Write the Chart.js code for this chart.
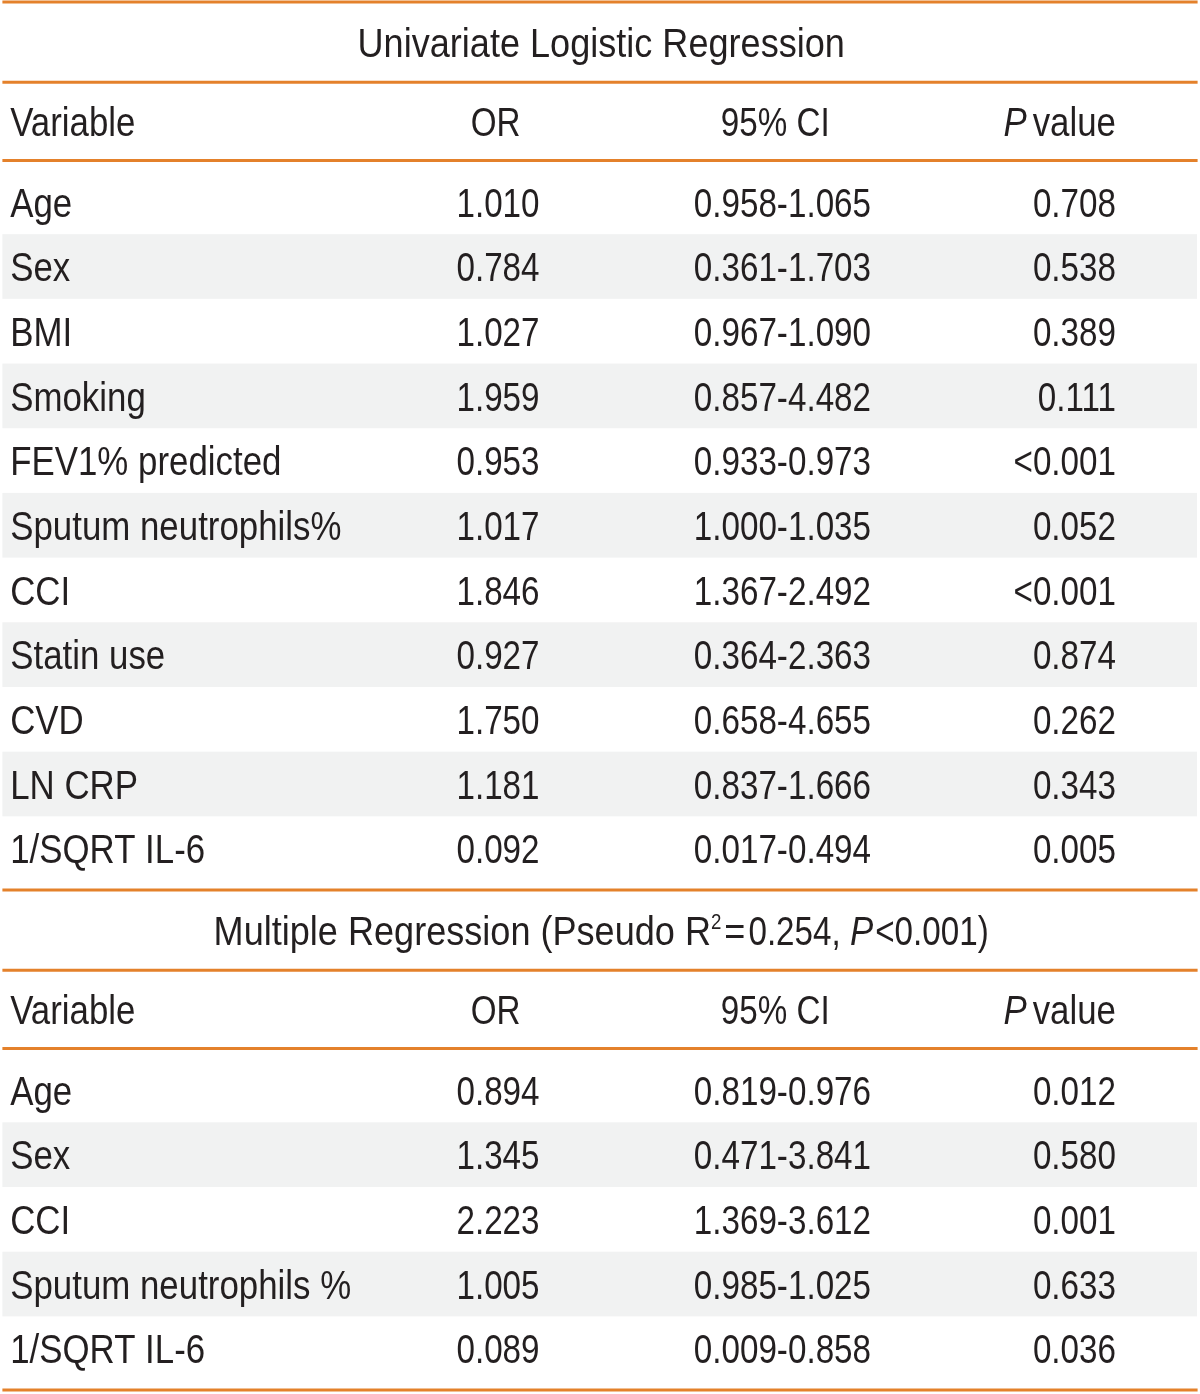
<!DOCTYPE html>
<html>
<head>
<meta charset="utf-8">
<title>Logistic regression table</title>
<script src="https://cdn.jsdelivr.net/npm/chart.js@4.4.0/dist/chart.umd.min.js"></script>
<style>
    body { margin: 0; background: #fff; }
    canvas { display: block; }
</style>
</head>
<body>
<canvas id="regressionTable" width="1200" height="1394"></canvas>
<script>
// Column headings and titles
const columnHeaders = ['Variable', 'OR', '95% CI', 'value'];
const uniTitle = 'Univariate Logistic Regression';
const multiTitle = 'Multiple Regression';
const multiPseudoR2 = 0.254;
const multiModelP = '<0.001';

// Univariate logistic regression
const uniVariables = ['Age', 'Sex', 'BMI', 'Smoking', 'FEV1% predicted', 'Sputum neutrophils%', 'CCI', 'Statin use', 'CVD', 'LN CRP', '1/SQRT IL-6'];
const uniOR = [1.010, 0.784, 1.027, 1.959, 0.953, 1.017, 1.846, 0.927, 1.750, 1.181, 0.092];
const uniCILow = [0.958, 0.361, 0.967, 0.857, 0.933, 1.000, 1.367, 0.364, 0.658, 0.837, 0.017];
const uniCIHigh = [1.065, 1.703, 1.090, 4.482, 0.973, 1.035, 2.492, 2.363, 4.655, 1.666, 0.494];
const uniP = ['0.708', '0.538', '0.389', '0.111', '<0.001', '0.052', '<0.001', '0.874', '0.262', '0.343', '0.005'];

// Multiple regression
const multiVariables = ['Age', 'Sex', 'CCI', 'Sputum neutrophils %', '1/SQRT IL-6'];
const multiOR = [0.894, 1.345, 2.223, 1.005, 0.089];
const multiCILow = [0.819, 0.471, 1.369, 0.985, 0.009];
const multiCIHigh = [0.976, 3.841, 3.612, 1.025, 0.858];
const multiP = ['0.012', '0.580', '0.001', '0.633', '0.036'];

// Styles
const FONT = "'Liberation Sans', Arial, sans-serif";
const FONT_SIZE = 41;
const TEXT_COLOR = '#231f20';
const RULE_COLOR = '#e4812b';
const STRIPE_COLOR = '#f1f2f2';

// Row heights in data-row units
const EDGE = 0.03;
const TITLE_H = 1.24;
const HEAD_H = 1.21;
const PAD = 0.14;

// Column positions on the x scale (0-100)
const COL = { left: 0.2, right: 99.8, variable: 0.85, or: 41.5, orHead: 41.3, ci: 65.2, ciHead: 64.6, p: 93.0, title: 50.1 };

const fmt = v => v.toFixed(3);

const blocks = [
    { title: 'uni', variables: uniVariables, or: uniOR, lo: uniCILow, hi: uniCIHigh, p: uniP },
    { title: 'multi', variables: multiVariables, or: multiOR, lo: multiCILow, hi: multiCIHigh, p: multiP }
];

// Work out where every rule, stripe and row sits on the y scale
function buildLayout() {
    const out = { rules: [], stripes: [], titles: [], headers: [], rows: [] };
    let y = EDGE;
    blocks.forEach(block => {
        out.rules.push(y);
        out.titles.push({ y: y + TITLE_H / 2, kind: block.title });
        y += TITLE_H;
        out.rules.push(y);
        out.headers.push(y + HEAD_H / 2);
        y += HEAD_H;
        out.rules.push(y);
        y += PAD;
        block.variables.forEach((name, i) => {
            if (i % 2 === 1) out.stripes.push(y);
            out.rows.push({
                y: y + 0.5,
                name: name,
                or: fmt(block.or[i]),
                ci: fmt(block.lo[i]) + '-' + fmt(block.hi[i]),
                p: block.p[i]
            });
            y += 1;
        });
        y += PAD;
    });
    out.rules.push(y);
    out.end = y + EDGE * 2;
    return out;
}
const layout = buildLayout();

function setFont(ctx, o) {
    ctx.font = (o.italic ? 'italic ' : '') + (o.size || FONT_SIZE) + 'px ' + FONT;
}

function textWidth(ctx, text, o) {
    ctx.save();
    setFont(ctx, o);
    const w = ctx.measureText(text).width * (o.sx || 1);
    ctx.restore();
    return w;
}

function drawText(ctx, text, x, y, align, o) {
    ctx.save();
    setFont(ctx, o);
    ctx.fillStyle = TEXT_COLOR;
    ctx.textAlign = align;
    ctx.textBaseline = 'alphabetic';
    ctx.translate(x, y);
    ctx.scale(o.sx || 1, 1);
    ctx.fillText(text, 0, 0);
    ctx.restore();
}

// Condensed look: the source face is narrow, so squeeze horizontally
const WORD = { sx: 0.85 };
const NUM = { sx: 0.81 };
const TITLE = { sx: 0.88 };
const ITALIC = { sx: 0.85, italic: true };
const CAP_HALF = FONT_SIZE * 0.716 / 2;

// Draws the table onto the chart area using the chart's scales
const tablePlugin = {
    id: 'tableDraw',
    afterDraw(chart) {
        const ctx = chart.ctx;
        const xs = chart.scales.x;
        const ys = chart.scales.y;
        const x = v => xs.getPixelForValue(v);
        const y = v => ys.getPixelForValue(v);

        // Stripes
        ctx.save();
        ctx.fillStyle = STRIPE_COLOR;
        layout.stripes.forEach(s => {
            ctx.fillRect(x(COL.left), y(s), x(COL.right - 0.05) - x(COL.left), y(s + 1) - y(s));
        });
        ctx.restore();

        // Rules
        ctx.save();
        ctx.strokeStyle = RULE_COLOR;
        ctx.lineWidth = 3;
        layout.rules.forEach(r => {
            ctx.beginPath();
            ctx.moveTo(x(COL.left), y(r));
            ctx.lineTo(x(COL.right), y(r));
            ctx.stroke();
        });
        ctx.restore();

        // Titles
        layout.titles.forEach(t => {
            const base = y(t.y) + CAP_HALF;
            if (t.kind === 'uni') {
                drawText(ctx, uniTitle, x(COL.title), base, 'center', TITLE);
                return;
            }
            const parts = [
                { text: multiTitle + ' (Pseudo R', o: TITLE },
                { text: '2', o: { sx: 0.85, size: 22 }, rise: 16 },
                { text: '=', o: TITLE, gap: 3 },
                { text: multiPseudoR2.toFixed(3) + ', ', o: NUM, gap: 3 },
                { text: 'P', o: ITALIC },
                { text: multiModelP + ')', o: NUM, gap: 2 }
            ];
            let total = 0;
            parts.forEach(p => { total += (p.gap || 0) + textWidth(ctx, p.text, p.o); });
            let cx = x(COL.title) - total / 2;
            parts.forEach(p => {
                cx += p.gap || 0;
                drawText(ctx, p.text, cx, base - (p.rise || 0), 'left', p.o);
                cx += textWidth(ctx, p.text, p.o);
            });
        });

        // Column headers
        layout.headers.forEach(h => {
            const base = y(h) + CAP_HALF;
            drawText(ctx, columnHeaders[0], x(COL.variable), base, 'left', WORD);
            drawText(ctx, columnHeaders[1], x(COL.orHead), base, 'center', NUM);
            drawText(ctx, columnHeaders[2], x(COL.ciHead), base, 'center', NUM);
            const vw = textWidth(ctx, columnHeaders[3], WORD);
            drawText(ctx, columnHeaders[3], x(COL.p), base, 'right', WORD);
            drawText(ctx, 'P', x(COL.p) - vw - 6, base, 'right', ITALIC);
        });

        // Data rows
        layout.rows.forEach(r => {
            const base = y(r.y) + CAP_HALF;
            drawText(ctx, r.name, x(COL.variable), base, 'left', WORD);
            drawText(ctx, r.or, x(COL.or), base, 'center', NUM);
            drawText(ctx, r.ci, x(COL.ci), base, 'center', NUM);
            drawText(ctx, r.p, x(COL.p), base, 'right', NUM);
        });
    }
};

new Chart(document.getElementById('regressionTable'), {
    type: 'scatter',
    data: { datasets: [] },
    options: {
        responsive: false,
        animation: false,
        layout: { padding: 0 },
        plugins: {
            legend: { display: false },
            tooltip: { enabled: false }
        },
        scales: {
            x: { type: 'linear', min: 0, max: 100, display: false },
            y: { type: 'linear', min: 0, max: layout.end, reverse: true, display: false }
        }
    },
    plugins: [tablePlugin]
});
</script>
</body>
</html>
